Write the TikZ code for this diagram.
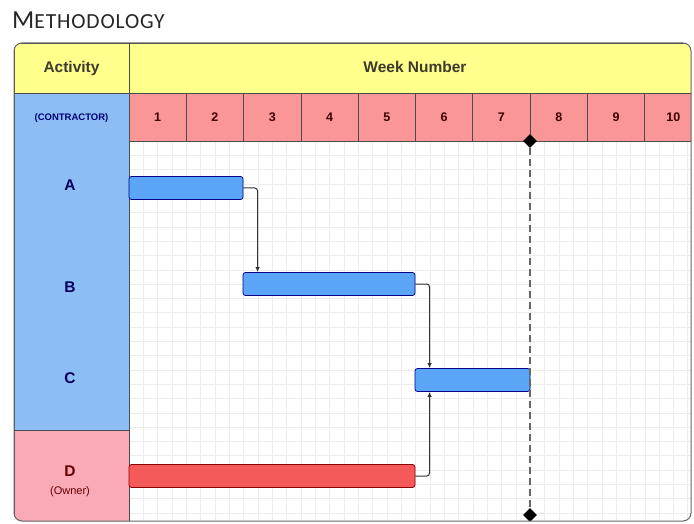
\documentclass[tikz,border=0pt]{standalone}
\usepackage{fontspec}
\setmainfont{Liberation Sans}
\newfontfamily\titlefont[LetterSpace=4]{Carlito}
\usetikzlibrary{shapes.geometric,arrows.meta}

\definecolor{headyellow}{RGB}{255,255,140}
\definecolor{weekpink}{RGB}{250,150,150}
\definecolor{actblue}{RGB}{140,190,245}
\definecolor{ownerpink}{RGB}{250,170,182}
\definecolor{barblue}{RGB}{90,165,245}
\definecolor{barred}{RGB}{245,90,90}

\begin{document}
\begin{tikzpicture}[x=1pt,y=-1pt,
    headcell/.style={draw=black!70,line width=0.8pt,fill=headyellow,minimum height=50pt,inner sep=0pt,
      font=\bfseries\fontsize{15.5}{15.5}\selectfont,text=black!75!olive},
    weekcell/.style={draw=black!70,line width=0.8pt,fill=weekpink,minimum width=57.3pt,minimum height=48pt,inner sep=0pt,
      font=\bfseries\fontsize{12.5}{12.5}\selectfont,text=red!25!black},
    actlabel/.style={inner sep=0pt,font=\bfseries\fontsize{15.5}{15.5}\selectfont,text=blue!35!black},
    bar/.style={draw=blue!55!black,line width=0.8pt,fill=barblue,rounded corners=2.5pt,minimum height=23pt,inner sep=0pt},
    link/.style={draw=black!80,line width=1pt,rounded corners=3pt,-{Latex[length=5pt,width=4.5pt]}},
    milestone/.style={diamond,fill=black,inner sep=0pt,minimum size=14pt}]

  \useasboundingbox (0,0) rectangle (694,524);
  \clip (0,0) rectangle (694,524);

  % title
  \node[anchor=base west,inner sep=0pt,font=\titlefont,text=black!85] (title) at (12,29)
    {{\fontsize{26}{26}\selectfont M}{\fontsize{21.5}{21.5}\selectfont ETHODOLOGY}};

  \begin{scope}
    \clip[rounded corners=8pt] (14,43) rectangle (691,521);

    % grid
    \foreach \x in {0,...,40}
      \draw[gray!15] ({129+\x*14.325},141) -- ({129+\x*14.325},521);
    \foreach \y in {0,...,27}
      \draw[gray!15] (129,{141+\y*14.3}) -- (694,{141+\y*14.3});

    % header rows
    \node[headcell,minimum width=115pt] (act) at (71.5,68) {Activity};
    \node[headcell,minimum width=580pt] (weeks) at (419,68) {};
    \node[headcell,draw=none,fill=none] (weeklabel) at (415,67) {Week Number};
    \foreach \i in {1,...,10}
      \node[weekcell] (w\i) at ({129+(\i-0.5)*57.3},117) {\i};

    % activity column
    \node[draw=black!70,line width=0.8pt,fill=actblue,minimum width=115pt,minimum height=337pt] (col) at (71.5,261.5) {};
    \node[draw=black!70,line width=0.8pt,fill=ownerpink,minimum width=115pt,minimum height=91pt] (own) at (71.5,475.5) {};
    \node[inner sep=0pt,font=\bfseries\fontsize{9.5}{9.5}\selectfont,text=blue!45!black] (contr) at (71.5,118) {(CONTRACTOR)};
    \node[actlabel] (la) at (70,185) {A};
    \node[actlabel] (lb) at (70,287) {B};
    \node[actlabel] (lc) at (70,378) {C};
    \node[actlabel,text=red!40!black] (ld) at (70,471) {D};
    \node[inner sep=0pt,font=\fontsize{11}{11}\selectfont,text=red!40!black] (lo) at (70,492) {(Owner)};

    % bars
    \node[bar,minimum width=114pt] (A) at (186,188) {};
    \node[bar,minimum width=172pt] (B) at (329,284) {};
    \node[bar,minimum width=115pt] (C) at (472.5,380) {};
    \node[bar,fill=barred,draw=red!55!black,minimum width=286pt] (D) at (272,476) {};

    % links
    \draw[link] (A.east) -| ([xshift=15pt]B.north west);
    \draw[link] (B.east) -| ([xshift=15pt]C.north west);
    \draw[link] (D.east) -| ([xshift=15pt]C.south west);

    % milestone line
    \node[milestone] (m1) at (530,141) {};
    \node[milestone] (m2) at (530,515) {};
    \draw[black!60,line width=1.3pt,dash pattern=on 7pt off 4pt] (m1) -- (m2);
  \end{scope}

  \draw[black!60,line width=1pt,rounded corners=8pt] (14,43) rectangle (691,521);

\end{tikzpicture}
\end{document}
